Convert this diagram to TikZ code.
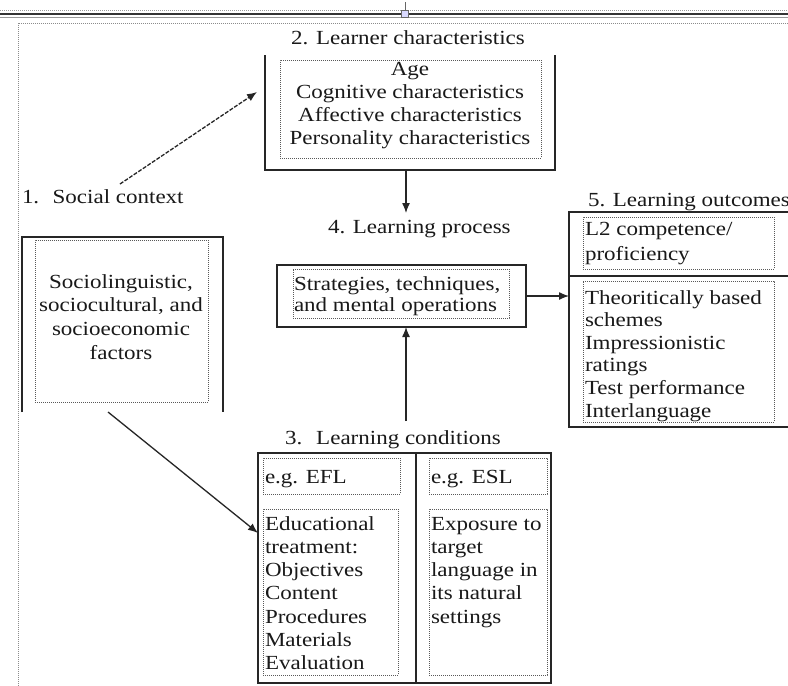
\documentclass[tikz,border=0pt]{standalone}
\usepackage{fontspec}
\setmainfont{Liberation Serif}[FakeStretch=1.15]
\usetikzlibrary{arrows.meta}
\newcommand\mylines[2]{\begin{tabular}[t]{@{}#1@{}}#2\end{tabular}}
\begin{document}
\begin{tikzpicture}[x=1pt,y=-1pt,
  solidline/.style={draw=black!85,line width=1.4pt},
  boxnode/.style={inner sep=0pt,outer sep=0pt,anchor=north west},
  dotbox/.style={boxnode,draw=black!65,line width=0.8pt,dash pattern=on 0.9pt off 1.1pt},
  txt/.style={inner sep=0pt,outer sep=0pt,text=black!90,font=\fontsize{20}{23}\selectfont},
  arr/.style={draw=black!85,line width=1.3pt,-{Latex[length=10pt,width=8pt]}},
  pageframe/.style={draw=black!45,line width=0.8pt,dash pattern=on 0.8pt off 1.2pt}]
\clip (0,0) rectangle (788,686);
\fill[white] (0,0) rectangle (788,686);
% page decoration
\draw[draw=black!40,line width=0.8pt,dash pattern=on 1pt off 1pt] (0,10) -- (788,10);
\draw[draw=black!80,line width=2pt] (0,14) -- (788,14);
\draw[draw=black!40,line width=0.8pt] (0,17.5) -- (788,17.5);
\node[draw=black!60,fill=blue!15,minimum size=7pt,inner sep=0pt] (handle) at (405,14) {};
\draw[draw=black!60,line width=0.8pt] (handle.north) -- ++(0,-8);
\draw[pageframe] (18,686) -- (18,23) -- (788,23);

% 2. Learner characteristics
\node[txt,anchor=base] (t2) at (408,44) {2. Learner characteristics};
\node[boxnode,minimum width=290pt,minimum height=115pt] (lb) at (265,55) {};
\draw[solidline] (lb.north west) -- (lb.south west) -- (lb.south east) -- (lb.north east);
\node[dotbox,minimum width=261pt,minimum height=98pt] (ld) at (280,60) {};
\node[txt,anchor=base,font=\fontsize{20}{23.3}\selectfont] (lt) at (410,75)
  {\mylines{c}{Age\\Cognitive characteristics\\Affective characteristics\\Personality characteristics}};

% 1. Social context
\node[txt,anchor=base west] (t1) at (22,203) {1.~ Social context};
\node[boxnode,minimum width=201pt,minimum height=175pt] (sb) at (22,237) {};
\draw[solidline] (sb.south west) -- (sb.north west) -- (sb.north east) -- (sb.south east);
\node[dotbox,minimum width=173pt,minimum height=162pt] (sd) at (35,240) {};
\node[txt,anchor=base,font=\fontsize{20}{23.7}\selectfont] (st) at (121,288)
  {\mylines{c}{Sociolinguistic,\\sociocultural, and\\socioeconomic\\factors}};

% 4. Learning process
\node[txt,anchor=base west] (t4) at (328,233) {4. Learning process};
\node[boxnode,solidline,minimum width=249pt,minimum height=62pt] (pb) at (277,265) {};
\node[dotbox,minimum width=216pt,minimum height=49pt] (pd) at (293,269) {};
\node[txt,anchor=base west,font=\fontsize{20}{21}\selectfont] (pt) at (294,290)
  {\mylines{l}{Strategies, techniques,\\and mental operations}};

% 5. Learning outcomes
\node[txt,anchor=base west] (t5) at (588,206) {5. Learning outcomes};
\node[boxnode,solidline,minimum width=240pt,minimum height=215pt] (ob) at (569,212) {};
\coordinate (odl) at (569,276);
\coordinate (odr) at (809,276);
\draw[solidline] (odl) -- (odr);
\node[dotbox,minimum width=191pt,minimum height=52pt] (od1) at (583,217) {};
\node[dotbox,minimum width=191pt,minimum height=141pt] (od2) at (583,281) {};
\node[txt,anchor=base west,font=\fontsize{20}{25}\selectfont] (ot1) at (585,235)
  {\mylines{l}{L2 competence/\\proficiency}};
\node[txt,anchor=base west,font=\fontsize{20}{22.6}\selectfont] (ot2) at (585,304)
  {\mylines{l}{Theoritically based\\schemes\\Impressionistic\\ratings\\Test performance\\Interlanguage}};

% 3. Learning conditions
\node[txt,anchor=base west] (t3) at (285,444) {3.\hspace{0.7em}Learning conditions};
\node[boxnode,solidline,minimum width=293pt,minimum height=230pt] (cb) at (258,453) {};
\coordinate (cdt) at (416,453);
\coordinate (cdb) at (416,683);
\draw[solidline] (cdt) -- (cdb);
\node[dotbox,minimum width=137pt,minimum height=36pt] (c1) at (263,458) {};
\node[dotbox,minimum width=135pt,minimum height=166pt] (c2) at (263,509) {};
\node[dotbox,minimum width=118pt,minimum height=36pt] (c3) at (429,458) {};
\node[dotbox,minimum width=118pt,minimum height=166pt] (c4) at (429,509) {};
\node[txt,anchor=base west] (ct1) at (265,483) {e.g. EFL};
\node[txt,anchor=base west,font=\fontsize{20}{23.3}\selectfont] (ct2) at (265,530)
  {\mylines{l}{Educational\\treatment:\\Objectives\\Content\\Procedures\\Materials\\Evaluation}};
\node[txt,anchor=base west] (ct3) at (431,483) {e.g. ESL};
\node[txt,anchor=base west,font=\fontsize{20}{23.3}\selectfont] (ct4) at (431,530)
  {\mylines{l}{Exposure to\\target\\language in\\its natural\\settings}};

% connectors
\coordinate (a1s) at (120,184);
\coordinate (a1e) at (257,92);
\draw[arr,dash pattern=on 4pt off 1.5pt] (a1s) -- (a1e);
\coordinate (a2s) at (406,170);
\coordinate (a2e) at (406,213);
\draw[arr] (a2s) -- (a2e);
\coordinate (a3s) at (406,421);
\coordinate (a3e) at (406,327);
\draw[arr] (a3s) -- (a3e);
\draw[arr] (pb.east) -- (pb.east -| ob.west);
\coordinate (a5s) at (108,412);
\coordinate (a5e) at (258,533);
\draw[arr] (a5s) -- (a5e);
\end{tikzpicture}
\end{document}
